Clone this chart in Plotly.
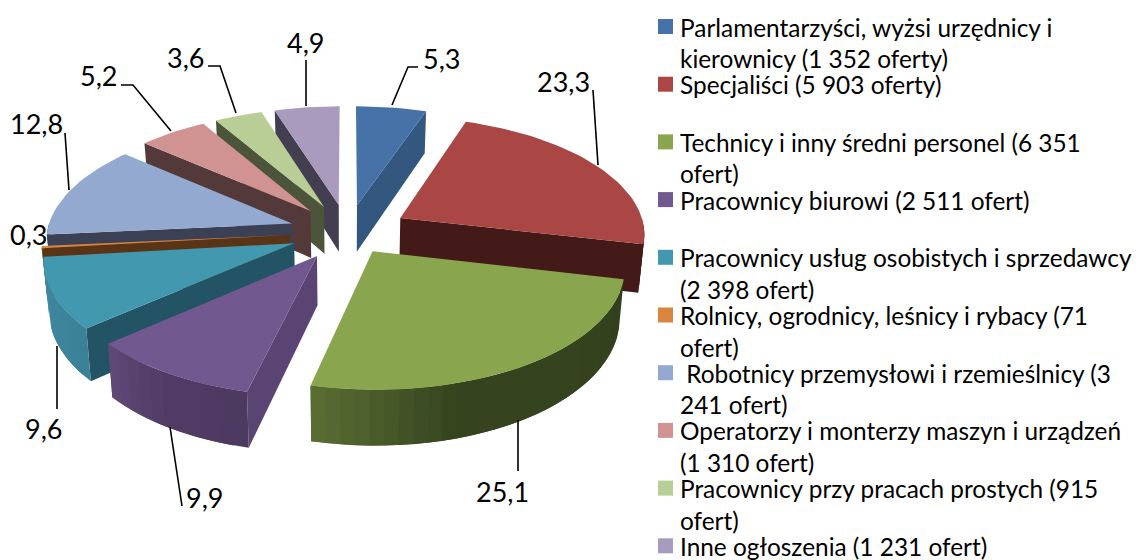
import math
import plotly.graph_objects as go

# ---- data ----
shares = [5.3, 23.3, 25.1, 9.9, 9.6, 0.3, 12.8, 5.2, 3.6, 4.9]
value_labels = ["5,3", "23,3", "25,1", "9,9", "9,6", "0,3", "12,8", "5,2", "3,6", "4,9"]
legend_labels = [
    "Parlamentarzyści, wyżsi urzędnicy i<br>kierownicy (1 352 oferty)",
    "Specjaliści (5 903 oferty)",
    "Technicy i inny średni personel (6 351<br>ofert)",
    "Pracownicy biurowi (2 511 ofert)",
    "Pracownicy usług osobistych i sprzedawcy<br>(2 398 ofert)",
    "Rolnicy, ogrodnicy, leśnicy i rybacy (71<br>ofert)",
    " Robotnicy przemysłowi i rzemieślnicy (3<br>241 ofert)",
    "Operatorzy i monterzy maszyn i urządzeń<br>(1 310 ofert)",
    "Pracownicy przy pracach prostych (915<br>ofert)",
    "Inne ogłoszenia (1 231 ofert)",
]
top_colors = ["#4672A8", "#AA4643", "#89A54E", "#71588F", "#4198AF",
              "#DB843D", "#93A9CF", "#D19392", "#B9CD96", "#A99BBD"]
edge_colors = ["#33577F", "#441A18", "#35431E", "#5A4474", "#225465",
               "#5A3416", "#3B4055", "#53393A", "#4C5539", "#443F50"]
rim_stops = [
    ["#33577F", "#33577F"], ["#441A18", "#441A18"],
    ["#333F1D", "#35431E", "#35431E", "#5B6F34"],
    ["#4D3A60", "#503B65", "#5F4A78"],
    ["#3A8096", "#3F8CA4"], ["#8A5020", "#8A5020"],
    ["#3B4055", "#3B4055"], ["#53393A", "#53393A"],
    ["#4C5539", "#4C5539"], ["#443F50", "#443F50"],
]
explode = [0.24, 0.25, 0.19, 0.235, 0.235, 0.235, 0.24, 0.24, 0.24, 0.24]

# label text centres and leader paths (page pixels)
label_pos = [(441, 58), (563, 81), (502, 491), (204, 497), (43, 428),
             (28, 234), (36, 123), (98, 75), (185, 57), (305, 42)]
leaders = [
    [(392, 105), (408, 67), (418, 67)],
    [(593, 90), (598, 165)],
    [(518, 420), (518, 471)],
    [(170, 427), (182, 506)],
    [(57, 346), (57, 409)],
    [],
    [(65, 133), (69, 190)],
    [(121, 85), (133, 85), (171, 131)],
    [(208, 66), (220, 66), (236, 113)],
    [(306, 60), (306, 106)],
]

# ---- projection of the exploded pie ----
CX, CY, A, B, D, P, Q = 347.5, 232, 245, 116.8, 48, 0.121, 0.018


def project(u, v, z=0.0):
    w = 1 / (1 - P * v)
    return CX + A * u * w / (1 + Q * z), CY + B * v * w + D * z * w


def hex_rgb(c):
    return [int(c[i:i + 2], 16) for i in (1, 3, 5)]


def mix(stops, f):
    f = max(0, min(1, f)) * (len(stops) - 1)
    i = min(int(f), len(stops) - 2)
    a, b = hex_rgb(stops[i]), hex_rgb(stops[i + 1])
    t = f - i
    return "rgb(%d,%d,%d)" % tuple(round(a[k] + (b[k] - a[k]) * t) for k in range(3))


fig = go.Figure()


def poly(pts, color):
    fig.add_trace(go.Scatter(
        x=[p[0] for p in pts] + [pts[0][0]], y=[p[1] for p in pts] + [pts[0][1]],
        mode="lines", fill="toself", fillcolor=color,
        line=dict(color="rgba(0,0,0,0)", width=0), hoverinfo="skip", showlegend=False))


total = sum(shares)
slices = []
acc = 0
for i, s in enumerate(shares):
    t0 = acc / total * 2 * math.pi
    acc += s
    t1 = acc / total * 2 * math.pi
    mid = (t0 + t1) / 2
    slices.append((-math.cos(mid), i, t0, t1, mid))

for _, i, t0, t1, mid in sorted(slices):
    ou, ov = explode[i] * math.sin(mid), -explode[i] * math.cos(mid)

    def rim(t, z=0.0):
        return project(ou + math.sin(t), ov - math.cos(t), z)

    apex_t, apex_b = project(ou, ov), project(ou, ov, 1)
    # cut faces that look towards the viewer
    for t, n in ((t0, t0 - math.pi / 2), (t1, t1 + math.pi / 2)):
        if -math.cos(n) > 1e-6:
            poly([apex_t, rim(t), rim(t, 1), apex_b], edge_colors[i])
    # outer wall, shaded in strips that overlap the next one to hide seams
    a, b = max(t0, math.pi / 2), min(t1, 3 * math.pi / 2)
    if b > a:
        n = max(1, int((b - a) / math.radians(3)))
        for k in range(n):
            ta, tb = a + (b - a) * k / n, a + (b - a) * min(n, k + 2) / n
            arc = [ta + (tb - ta) * m / 4 for m in range(5)]
            poly([rim(t) for t in arc] + [rim(t, 1) for t in reversed(arc)],
                 mix(rim_stops[i], (k + 0.5) / n))
    # top face
    n = max(2, int((t1 - t0) / math.radians(2)))
    poly([apex_t] + [rim(t0 + (t1 - t0) * k / n) for k in range(n + 1)], top_colors[i])

# leader lines
for path in leaders:
    if path:
        fig.add_trace(go.Scatter(x=[p[0] for p in path], y=[p[1] for p in path], mode="lines",
                                 line=dict(color="black", width=1.6), hoverinfo="skip",
                                 showlegend=False))

FONT = "Lato"
anns = []
for txt, (x, y) in zip(value_labels, label_pos):
    anns.append(dict(x=x, y=y, text=txt, showarrow=False, xanchor="center", yanchor="middle",
                     font=dict(family=FONT, size=27, color="black")))

# legend
LEG_Y0, LEG_STEP, LINE = 26.5, 57.7, 31.5
for i, lab in enumerate(legend_labels):
    y = LEG_Y0 + LEG_STEP * i
    fig.add_trace(go.Scatter(x=[665.5], y=[y], mode="markers", hoverinfo="skip", showlegend=False,
                             marker=dict(symbol="square", size=15, color=top_colors[i], line=dict(width=0))))
    for j, part in enumerate(lab.split("<br>")):
        anns.append(dict(x=677.5, y=y + j * LINE, text=part, showarrow=False, xanchor="left",
                         yanchor="middle", height=28,
                         font=dict(family=FONT, size=24.4, color="black")))

fig.update_layout(
    width=1136, height=560, margin=dict(l=0, r=0, t=0, b=0),
    paper_bgcolor="white", plot_bgcolor="white", showlegend=False, annotations=anns,
    xaxis=dict(range=[0, 1136], visible=False, fixedrange=True),
    yaxis=dict(range=[560, 0], visible=False, fixedrange=True),
)
fig.write_html("out.html", config=dict(displayModeBar=False),
               post_script="document.body.style.margin='0';document.body.style.overflow='hidden';")
